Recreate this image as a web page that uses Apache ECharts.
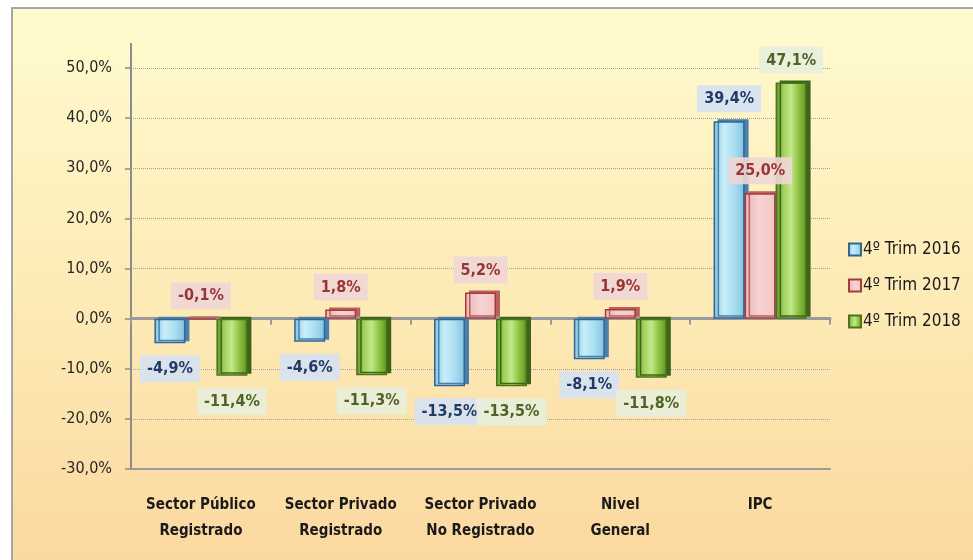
<!DOCTYPE html>
<html><head><meta charset="utf-8">
<script src="https://cdn.jsdelivr.net/npm/echarts@6/dist/echarts.min.js"></script>
<style>html,body{margin:0;padding:0;background:#fff}#c{width:973px;height:560px}</style>
</head><body><div id="c"></div>
<script>
const categories = ['Sector Público\nRegistrado','Sector Privado\nRegistrado','Sector Privado\nNo Registrado','Nivel\nGeneral','IPC'];
const seriesNames = ['4º Trim 2016','4º Trim 2017','4º Trim 2018'];
const trim2016 = [-4.9, -4.6, -13.5, -8.1, 39.4];
const trim2017 = [-0.1, 1.8, 5.2, 1.9, 25.0];
const trim2018 = [-11.4, -11.3, -13.5, -11.8, 47.1];
const yMin = -30, yMax = 50, yStep = 10;

const FONT = "'Liberation Sans Narrow','DejaVu Sans Condensed','Liberation Sans',sans-serif";
const fmt = v => v.toFixed(1).replace('.', ',') + '%';

function grad(stops) {
  return new echarts.graphic.LinearGradient(0, 0, 1, 0, stops.map((c, i) => ({offset: i / (stops.length - 1), color: c})));
}
const styles = [
  {fill: grad(['#7fc3e1','#c9eef9','#aadef1','#80c2e0']), border: '#36658f', side: '#4a80ad', lblBg: 'rgba(214,226,242,0.9)', lblColor: '#1f3c67', alwaysTop: false},
  {fill: grad(['#eeb4b4','#f7d3d3','#f3c4c4']), border: '#a53c3c', side: '#b86060', lblBg: 'rgba(240,214,214,0.9)', lblColor: '#983535', alwaysTop: true},
  {fill: grad(['#5f9424','#9fd05a','#c3e88a','#8cc13f','#5f9424']), border: '#4a741c', side: '#3e6418', lblBg: 'rgba(232,238,220,0.9)', lblColor: '#4f6328', alwaysTop: false}
];
const allData = [trim2016, trim2017, trim2018];

const series = allData.map((arr, i) => ({
  name: seriesNames[i],
  type: 'bar',
  xAxisIndex: 0,
  barWidth: 31,
  barGap: '0%',
  itemStyle: {
    color: styles[i].fill, borderColor: styles[i].border, borderWidth: 1.5,
    shadowColor: styles[i].side, shadowOffsetX: 4, shadowOffsetY: -2, shadowBlur: 0
  },
  label: {
    show: true, formatter: p => fmt(p.value), fontFamily: FONT, fontWeight: 'bold', fontSize: 16,
    color: styles[i].lblColor, backgroundColor: styles[i].lblBg, padding: [6, 7, 5, 7]
  },
  data: arr.map(v => {
    const neg = v < 0 && !styles[i].alwaysTop;
    return {value: v, label: {position: neg ? 'bottom' : 'top', distance: neg ? 12 : 9}};
  })
}));

const chart = echarts.init(document.getElementById('c'));
chart.setOption({
  animation: false,
  backgroundColor: '#ffffff',
  graphic: [{
    type: 'rect', z: -10, silent: true,
    shape: {x: 12, y: 8, width: 990, height: 600},
    style: {
      fill: new echarts.graphic.LinearGradient(0, 0, 0, 1, [
        {offset: 0, color: '#fffbcf'}, {offset: 0.5, color: '#fdeab5'}, {offset: 1, color: '#fbd59c'}]),
      stroke: '#a6a6a6', lineWidth: 2
    }
  }, {
    type: 'line', z: 5, silent: true,
    shape: {x1: 131, y1: 43, x2: 131, y2: 68},
    style: {stroke: '#8c8c8c', lineWidth: 2}
  }],
  legend: {
    orient: 'vertical', left: 843, top: 236, itemWidth: 12, itemHeight: 12, itemGap: 19,
    icon: 'rect', data: seriesNames,
    textStyle: {fontFamily: FONT, fontSize: 17, color: '#1a1a1a', padding: [0, 0, 0, -3]}
  },
  grid: {left: 131, right: 143, top: 68, bottom: 91, containLabel: false},
  xAxis: [{
    type: 'category', data: categories, position: 'bottom',
    axisLine: {onZero: false, lineStyle: {color: '#9a9a9a', width: 2}},
    axisTick: {show: false},
    axisLabel: {fontFamily: FONT, fontWeight: 'bold', fontSize: 15, color: '#1a1a1a', lineHeight: 26, margin: 23, interval: 0}
  }, {
    type: 'category', data: categories, position: 'bottom',
    axisLine: {onZero: true, lineStyle: {color: '#9a9a9a', width: 3}},
    axisTick: {show: true, length: 6, lineStyle: {color: '#9a9a9a', width: 2}},
    axisLabel: {show: false}
  }],
  yAxis: {
    type: 'value', min: yMin, max: yMax, interval: yStep,
    axisLine: {show: true, lineStyle: {color: '#8c8c8c', width: 2}},
    axisTick: {show: true, length: 6, lineStyle: {color: '#8c8c8c', width: 1.5}},
    axisLabel: {formatter: v => fmt(v), fontFamily: FONT, fontSize: 16, color: '#262626', margin: 19},
    splitLine: {show: true, lineStyle: {color: '#a0a0a0', type: 'dotted', width: 1}}
  },
  series: series
});
</script></body></html>
